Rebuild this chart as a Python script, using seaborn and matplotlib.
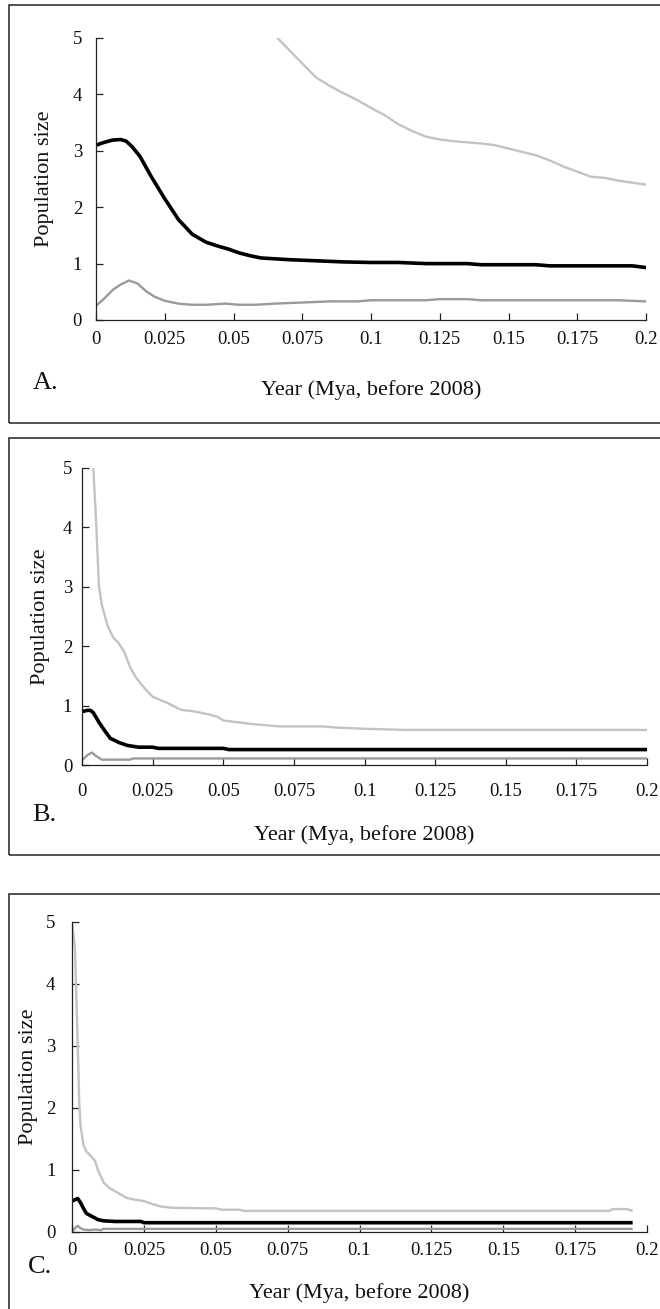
import numpy as np
import pandas as pd
import matplotlib
matplotlib.use("Agg")
import matplotlib.pyplot as plt
import seaborn as sns
from matplotlib.patches import Rectangle

# ---------------- data ----------------
# Panel A
a_up_x = [0.060, 0.066, 0.070, 0.075, 0.080, 0.085, 0.090, 0.095, 0.100, 0.105, 0.110, 0.115,
          0.120, 0.125, 0.130, 0.140, 0.145, 0.150, 0.160, 0.165, 0.170, 0.175, 0.180, 0.185, 0.190, 0.200]
a_up_y = [5.40, 5.00, 4.80, 4.55, 4.30, 4.15, 4.02, 3.90, 3.76, 3.63, 3.47, 3.35,
          3.25, 3.20, 3.17, 3.13, 3.10, 3.04, 2.92, 2.83, 2.72, 2.63, 2.54, 2.52, 2.47, 2.40]
a_med_x = [0.000, 0.003, 0.006, 0.009, 0.011, 0.013, 0.016, 0.020, 0.025, 0.030, 0.035, 0.040,
           0.045, 0.048, 0.052, 0.056, 0.060, 0.070, 0.080, 0.090, 0.100, 0.110, 0.115, 0.120,
           0.135, 0.140, 0.145, 0.160, 0.165, 0.170, 0.195, 0.200]
a_med_y = [3.10, 3.15, 3.19, 3.20, 3.17, 3.08, 2.90, 2.55, 2.15, 1.78, 1.52, 1.38,
           1.30, 1.26, 1.19, 1.14, 1.10, 1.07, 1.05, 1.03, 1.02, 1.02, 1.01, 1.00,
           1.00, 0.98, 0.98, 0.98, 0.96, 0.96, 0.96, 0.93]
a_lo_x = [0.000, 0.003, 0.006, 0.009, 0.012, 0.015, 0.018, 0.021, 0.025, 0.030, 0.035, 0.040,
          0.047, 0.052, 0.058, 0.065, 0.075, 0.085, 0.095, 0.100, 0.120, 0.125, 0.135, 0.140,
          0.190, 0.200]
a_lo_y = [0.25, 0.38, 0.53, 0.63, 0.70, 0.65, 0.52, 0.42, 0.34, 0.29, 0.27, 0.27,
          0.29, 0.27, 0.27, 0.29, 0.31, 0.33, 0.33, 0.35, 0.35, 0.37, 0.37, 0.35,
          0.35, 0.33]

# Panel B
b_up_x = [0.0035, 0.0040, 0.0050, 0.0060, 0.0070, 0.0090, 0.0110, 0.0130, 0.0150, 0.0170, 0.0190,
          0.0220, 0.0250, 0.0300, 0.0350, 0.0400, 0.0450, 0.0480, 0.0500, 0.0550, 0.0600, 0.0650,
          0.0700, 0.0850, 0.0900, 0.1000, 0.1150, 0.2000]
b_up_y = [6.00, 5.00, 4.10, 3.00, 2.70, 2.35, 2.15, 2.05, 1.90, 1.65, 1.48,
          1.30, 1.15, 1.05, 0.93, 0.90, 0.85, 0.81, 0.75, 0.72, 0.69, 0.67,
          0.65, 0.65, 0.63, 0.61, 0.59, 0.59]
b_med_x = [0.000, 0.002, 0.003, 0.004, 0.006, 0.008, 0.010, 0.013, 0.016, 0.020, 0.025, 0.027,
           0.050, 0.052, 0.200]
b_med_y = [0.90, 0.92, 0.92, 0.88, 0.72, 0.58, 0.45, 0.38, 0.33, 0.30, 0.30, 0.28,
           0.28, 0.26, 0.26]
b_lo_x = [0.000, 0.002, 0.0035, 0.005, 0.007, 0.009, 0.017, 0.018, 0.200]
b_lo_y = [0.08, 0.17, 0.21, 0.15, 0.09, 0.09, 0.09, 0.11, 0.11]

# Panel C
c_up_x = [0.000, 0.001, 0.0015, 0.002, 0.0025, 0.003, 0.004, 0.005, 0.007, 0.008, 0.009, 0.011,
          0.013, 0.016, 0.019, 0.022, 0.025, 0.028, 0.031, 0.035, 0.050, 0.052, 0.058, 0.060,
          0.187, 0.188, 0.193, 0.195]
c_up_y = [5.00, 4.60, 3.80, 3.00, 2.10, 1.70, 1.40, 1.30, 1.20, 1.15, 1.00, 0.80,
          0.71, 0.63, 0.55, 0.52, 0.50, 0.45, 0.41, 0.39, 0.38, 0.36, 0.36, 0.34,
          0.34, 0.37, 0.37, 0.34]
c_med_x = [0.000, 0.001, 0.002, 0.003, 0.004, 0.005, 0.007, 0.009, 0.011, 0.015, 0.024, 0.025,
           0.195]
c_med_y = [0.50, 0.52, 0.54, 0.47, 0.38, 0.30, 0.25, 0.20, 0.18, 0.17, 0.17, 0.15,
           0.15]
c_lo_x = [0.000, 0.001, 0.002, 0.003, 0.004, 0.006, 0.008, 0.010, 0.011, 0.012, 0.195]
c_lo_y = [0.00, 0.06, 0.10, 0.06, 0.04, 0.03, 0.04, 0.03, 0.05, 0.05, 0.05]

x_ticks = [0, 0.025, 0.05, 0.075, 0.1, 0.125, 0.15, 0.175, 0.2]
x_tick_labels = ["0", "0.025", "0.05", "0.075", "0.1", "0.125", "0.15", "0.175", "0.2"]
y_ticks = [0, 1, 2, 3, 4, 5]
y_tick_labels = ["0", "1", "2", "3", "4", "5"]
panel_letters = ["A.", "B.", "C."]
x_title = "Year (Mya, before 2008)"
y_title = "Population size"

# ---------------- styling ----------------
sns.set_theme(style="ticks")
plt.rcParams["font.family"] = ["Liberation Serif", "DejaVu Serif"]

W, H = 660, 1309
fig = plt.figure(figsize=(W / 100, H / 100), dpi=100)
fig.patch.set_facecolor("white")

def rect(l, r, t, b):
    return [l / W, 1 - b / H, (r - l) / W, (b - t) / H]

panels = [
    dict(pos=(96, 646, 38, 320), box=(9, 5, 423), series=[(a_up_x, a_up_y), (a_med_x, a_med_y), (a_lo_x, a_lo_y)],
         ypad=10, xpad=8, xlab_y=390, ylab_x=44, letter=(33, 383)),
    dict(pos=(82, 647, 468, 765), box=(9, 438, 855), series=[(b_up_x, b_up_y), (b_med_x, b_med_y), (b_lo_x, b_lo_y)],
         ypad=7, xpad=13, xlab_y=835, ylab_x=41, letter=(32, 815)),
    dict(pos=(72, 647, 922, 1232), box=(9, 894, 1340), series=[(c_up_x, c_up_y), (c_med_x, c_med_y), (c_lo_x, c_lo_y)],
         ypad=12, xpad=7, xlab_y=1293, ylab_x=29, letter=(28, 1267)),
]

colors = ["#c3c3c3", "#000000", "#9a9a9a"]
widths = [1.7, 2.6, 1.7]

for p, letter in zip(panels, panel_letters):
    l, r, t, b = p["pos"]
    ax = fig.add_axes(rect(l, r, t, b))
    for (xs, ys), c, lw in zip(p["series"], colors, widths):
        df = pd.DataFrame({"x": xs, "y": ys})
        sns.lineplot(data=df, x="x", y="y", ax=ax, color=c, linewidth=lw,
                     estimator=None, sort=False, solid_capstyle="butt")
    ax.set_xlim(0, 0.2)
    ax.set_ylim(0, 5)
    ax.set_xticks(x_ticks)
    ax.set_xticklabels(x_tick_labels)
    ax.set_yticks(y_ticks)
    ax.set_yticklabels(y_tick_labels)
    ax.tick_params(axis="both", direction="in", length=5, width=0.9, color="#222222",
                   labelsize=13.5, labelcolor="#111111")
    ax.tick_params(axis="y", pad=p["ypad"])
    ax.tick_params(axis="x", pad=p["xpad"])
    for s in ["top", "right"]:
        ax.spines[s].set_visible(False)
    for s in ["left", "bottom"]:
        ax.spines[s].set_color("#222222")
        ax.spines[s].set_linewidth(0.9)
    ax.set_facecolor("white")
    ax.set_ylabel(y_title, fontsize=16, color="#111111", va="center", ha="center")
    ax.set_xlabel(x_title, fontsize=16, color="#111111", va="center", ha="center")
    hpx = b - t
    wpx = r - l
    ax.yaxis.set_label_coords((p["ylab_x"] - l) / wpx, 0.5)
    ax.xaxis.set_label_coords(0.5, (b - p["xlab_y"]) / hpx)
    lx, ly = p["letter"]
    fig.text(lx / W, 1 - ly / H, letter, fontsize=19, ha="left", va="center", color="#111111")
    bx, bt, bb = p["box"]
    fig.add_artist(Rectangle((bx / W, 1 - bb / H), (W + 20 - bx) / W, (bb - bt) / H,
                             transform=fig.transFigure, fill=False, edgecolor="#222222",
                             linewidth=1.1, clip_on=False))

fig.savefig("out.png", dpi=100, facecolor="white")
